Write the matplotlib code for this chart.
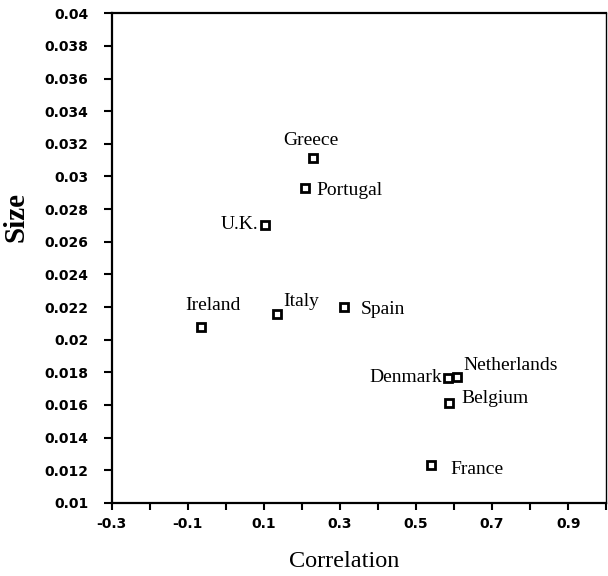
import matplotlib
matplotlib.use("Agg")
import matplotlib.pyplot as plt
import numpy as np

countries = ["Greece", "Portugal", "U.K.", "Ireland", "Italy", "Spain",
             "Denmark", "Netherlands", "Belgium", "France"]
correlation = [0.229, 0.208, 0.103, -0.066, 0.134, 0.311, 0.584, 0.608, 0.587, 0.539]
size = [0.0311, 0.0293, 0.0270, 0.0208, 0.0216, 0.0220, 0.01765, 0.0177, 0.0161, 0.0123]
# label offsets in points (dx, dy) and alignment
label_pos = {
    "Greece": (-1.4, 13, "center"),
    "Portugal": (8, -2, "left"),
    "U.K.": (-5, 1, "right"),
    "Ireland": (8.6, 15, "center"),
    "Italy": (4.3, 8.6, "left"),
    "Spain": (12, -2, "left"),
    "Denmark": (-4, 0, "right"),
    "Netherlands": (4.3, 8.6, "left"),
    "Belgium": (8.6, 3.6, "left"),
    "France": (14, -3, "left"),
}

xticks = np.round(np.arange(-0.3, 1.01, 0.1), 1)
xlabels = ["-0.3", "", "-0.1", "", "0.1", "", "0.3", "", "0.5", "", "0.7", "", "0.9", ""]
yticks = np.round(np.arange(0.010, 0.0401, 0.002), 3)
ylabels = [("%g" % v) for v in yticks]

fig = plt.figure(figsize=(6.08, 5.76), dpi=100)
ax = fig.add_axes([0.184, 0.127, 0.813, 0.850])
ax.plot(correlation, size, linestyle="none", marker="s", markersize=5.5,
        markerfacecolor="white", markeredgecolor="black", markeredgewidth=2)
for c, x, y in zip(countries, correlation, size):
    dx, dy, ha = label_pos[c]
    ax.annotate(c, (x, y), xytext=(dx, dy), textcoords="offset points",
                ha=ha, va="center", fontsize=14, family="Liberation Serif")

ax.set_xlim(-0.3, 1.0)
ax.set_ylim(0.01, 0.04)
ax.set_xticks(xticks)
ax.set_xticklabels(xlabels, fontsize=10, fontweight="bold", family="DejaVu Sans")
ax.set_yticks(yticks)
ax.set_yticklabels(ylabels, fontsize=10, fontweight="bold", family="DejaVu Sans")
ax.tick_params(axis="x", direction="out", length=5, width=1.5, pad=5)
ax.tick_params(axis="y", direction="out", length=5.8, width=1.5, pad=11)
for s in ax.spines.values():
    s.set_linewidth(1.6)
ax.spines["right"].set_linewidth(1.0)
ax.set_xlabel("Correlation", fontsize=17.5, family="Liberation Serif")
ax.xaxis.set_label_coords(0.469, -0.098)
ax.set_ylabel("Size", fontsize=21, family="Liberation Serif", fontweight="bold")
ax.yaxis.set_label_coords(-0.166, 0.584)
fig.savefig("out.png", dpi=100)
